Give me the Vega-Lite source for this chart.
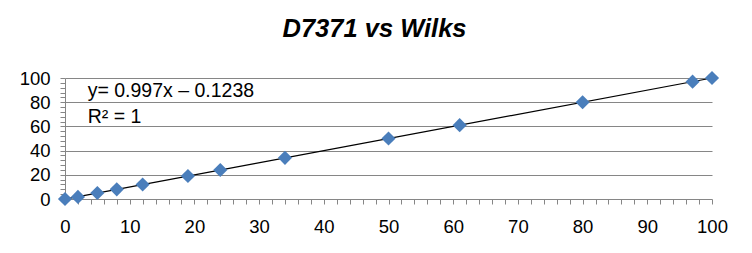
{
  "$schema": "https://vega.github.io/schema/vega-lite/v6.json",
  "autosize": "none",
  "padding": {"left": 65, "top": 78, "right": 40, "bottom": 54},
  "width": 647,
  "height": 121,
  "background": "white",
  "title": {"text": "D7371 vs Wilks", "font": "Liberation Sans", "fontSize": 25.5, "fontWeight": "bold", "fontStyle": "italic", "color": "black", "offset": 27, "dx": -14},
  "config": {"view": {"stroke": null}, "axis": {"labelFont": "Liberation Sans", "labelFontSize": 18.5, "labelColor": "black", "domainColor": "#868686", "tickColor": "#868686", "gridColor": "#868686", "labelOverlap": false}},
  "layer": [
    {
      "data": {"values": [
        {"x": 0, "y": 0}, {"x": 2, "y": 1.7}, {"x": 5, "y": 5}, {"x": 8, "y": 8},
        {"x": 12, "y": 12}, {"x": 19, "y": 19}, {"x": 24, "y": 24}, {"x": 34, "y": 34},
        {"x": 50, "y": 50}, {"x": 61, "y": 61}, {"x": 80, "y": 80}, {"x": 97, "y": 97}, {"x": 100, "y": 100}
      ]},
      "layer": [
        {
          "mark": {"type": "line", "color": "black", "strokeWidth": 1.2},
          "transform": [{"regression": "y", "on": "x"}],
          "encoding": {
            "x": {"field": "x", "type": "quantitative", "scale": {"domain": [0, 100], "nice": false},
              "axis": {"title": null, "tickCount": 200, "format": "d", "values": [0,2,4,6,8,10,12,14,16,18,20,22,24,26,28,30,32,34,36,38,40,42,44,46,48,50,52,54,56,58,60,62,64,66,68,70,72,74,76,78,80,82,84,86,88,90,92,94,96,98,100],
                "labelExpr": "datum.value % 10 === 0 ? datum.label : ''", "grid": false, "tickSize": 5, "labelPadding": 13, "labelFlush": false, "labelOverlap": false}},
            "y": {"field": "y", "type": "quantitative", "scale": {"domain": [0, 100], "nice": false},
              "axis": {"title": null, "tickCount": 200, "format": "d", "values": [0,4,8,12,16,20,24,28,32,36,40,44,48,52,56,60,64,68,72,76,80,84,88,92,96,100],
                "labelExpr": "datum.value % 20 === 0 ? datum.label : ''", "grid": true,
                "gridOpacity": {"condition": {"test": "datum.value % 20 === 0 && datum.value > 0", "value": 1}, "value": 0},
                "tickSize": 5, "labelPadding": 10, "labelFlush": false, "labelOverlap": false}}
          }
        },
        {
          "mark": {"type": "point", "shape": "diamond", "filled": true, "size": 200, "color": "#4A7EBB", "opacity": 1},
          "encoding": {
            "x": {"field": "x", "type": "quantitative"},
            "y": {"field": "y", "type": "quantitative"}
          }
        }
      ]
    },
    {
      "data": {"values": [{}]},
      "mark": {"type": "text", "align": "left", "baseline": "middle", "font": "Liberation Sans", "fontSize": 19.5, "color": "black", "lineHeight": 26.5},
      "encoding": {
        "x": {"datum": 3.5, "type": "quantitative"},
        "y": {"datum": 89.5, "type": "quantitative"},
        "text": {"value": ["y= 0.997x – 0.1238", "R² = 1"]}
      }
    }
  ]
}
